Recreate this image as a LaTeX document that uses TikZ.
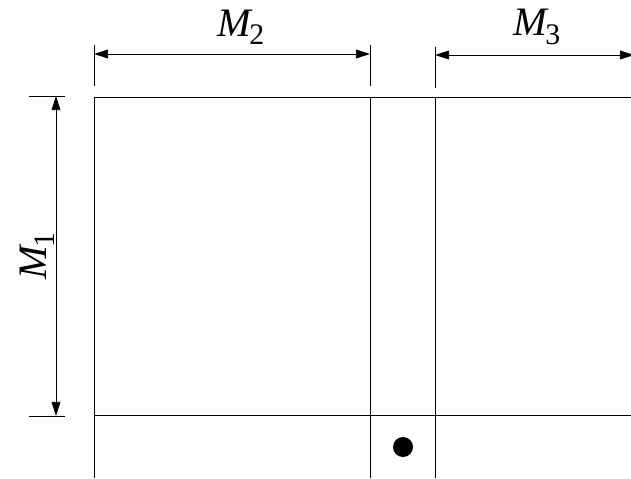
\documentclass[tikz,border=0pt]{standalone}
\usepackage{fontspec}
\newfontfamily\tms{Liberation Serif}
\usetikzlibrary{arrows.meta,positioning,calc}
\newcommand{\Msub}[1]{{\itshape M}\kern-1pt\raisebox{-0.45ex}{\fontsize{17}{17}\selectfont #1}}
\tikzset{dimarr/.style={{Triangle[length=8pt,width=5pt]}-{Triangle[length=8pt,width=5pt]},line width=0.45pt},
  rule/.style={line width=0.5pt},
  lbl/.style={font=\tms\fontsize{23}{26}\selectfont,inner sep=0pt}}

\begin{document}
\begin{tikzpicture}[x=0.02cm,y=-0.02cm]
\useasboundingbox (0,0) rectangle (631,479);
% grid
\coordinate (a1) at (94,97); \coordinate (a2) at (370,97); \coordinate (a3) at (435,97);
\coordinate (b1) at (94,415); \coordinate (e) at (634,97); \coordinate (f) at (634,415);
\draw[rule] (a1) -- (e);
\draw[rule] (b1) -- (f);
\draw[rule] (a1) -- (94,478);
\draw[rule] (a2) -- (370,478);
\draw[rule] (a3) -- (435,478);
% extension lines
\draw[rule] (94,45) -- (94,86);
\draw[rule] (370,45) -- (370,86);
\draw[rule] (435,47) -- (435,88);
\draw[rule] (29,96) -- (65,96);
\draw[rule] (29,416) -- (65,416);
% dimensions
\coordinate (m2l) at (94,54); \coordinate (m2r) at (370,54);
\coordinate (m3l) at (435,55); \coordinate (m3r) at (634,55);
\coordinate (m1t) at (56,96); \coordinate (m1b) at (56,416);
\draw[dimarr] (m2l) -- (m2r);
\draw[dimarr] (m3l) -- (m3r);
\draw[dimarr] (m1t) -- (m1b);
\node[lbl] (M2) at (241,27) {\Msub{2}};
\node[lbl] (M3) at (537,27) {\Msub{3}};
\node[lbl,rotate=90] (M1) at (37,256) {\Msub{1}};
\fill (403,447) circle (10);
\end{tikzpicture}
\end{document}
